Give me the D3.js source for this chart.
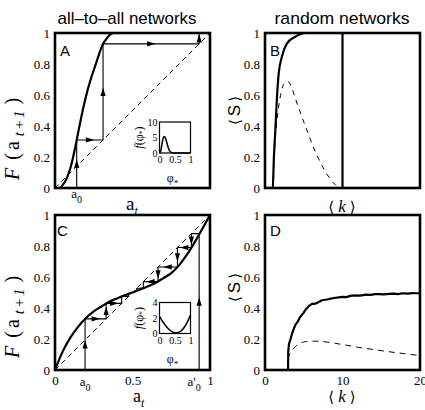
<!DOCTYPE html>
<html lang="en">

<head>
	<meta charset="utf-8">
	<title>all-to-all and random networks</title>
	<script type="text/javascript" src="https://cdn.jsdelivr.net/npm/d3@7/dist/d3.min.js"></script>
	<style>
		body { margin: 0; background: white; }
		svg { display: block; }
	</style>
</head>

<body>
	<script type="text/javascript">

		// ---- values ----
		const yTicks = [0, 0.2, 0.4, 0.6, 0.8, 1];
		const kTicks = [0, 10, 20];
		const insetXTicks = [0, 0.5, 1];
		const insetYTicksA = [0, 5, 10];
		const insetYTicksC = [0, 2, 4];

		// A: map F(a_t), all-to-all network
		const aA = [0, 0.03, 0.05, 0.07, 0.09, 0.11, 0.13, 0.15, 0.17, 0.19, 0.21, 0.23, 0.25, 0.27, 0.29, 0.31, 0.33, 0.35, 0.38, 0.42, 1];
		const FA = [0, 0, 0.02, 0.05, 0.10, 0.17, 0.26, 0.36, 0.46, 0.55, 0.63, 0.70, 0.76, 0.82, 0.88, 0.93, 0.96, 0.985, 1, 1, 1];
		const a0A = 0.14;
		const cobA_a = [0.14, 0.14, 0.31, 0.31, 0.93, 0.93];
		const cobA_F = [0, 0.31, 0.31, 0.93, 0.93, 1];
		// inset A
		const phiA = [0, 0.03, 0.06, 0.1, 0.13, 0.16, 0.2, 0.25, 0.3, 0.35, 0.4, 0.5, 1];
		const fA = [0, 0.3, 1.8, 4.0, 5.1, 5.3, 4.6, 2.8, 1.2, 0.4, 0.1, 0, 0];

		// B: random networks, <S> vs <k>
		const kB = [0, 1.0, 1.15, 1.33, 1.55, 1.77, 2.2, 2.8, 3.9, 5.2, 10];
		const SB = [0, 0, 0.2, 0.37, 0.59, 0.74, 0.85, 0.93, 0.976, 1, 1];
		const kBdrop = [10, 10, 20];
		const SBdrop = [1, 0, 0];
		const kBdash = [1.0, 1.3, 1.7, 2.1, 2.5, 3.0, 3.5, 3.9, 5.2, 6.5, 7.8, 9.07, 9.5];
		const SBdash = [0, 0.3, 0.5, 0.62, 0.675, 0.686, 0.64, 0.58, 0.40, 0.234, 0.105, 0.02, 0];

		// C: map F(a_t), all-to-all network, second threshold distribution
		const aC = [0, 0.05, 0.1, 0.15, 0.2, 0.25, 0.3, 0.35, 0.4, 0.45, 0.5, 0.55, 0.6, 0.65, 0.7, 0.75, 0.8, 0.85, 0.9, 0.95, 1];
		const FC = [0, 0.12, 0.21, 0.28, 0.335, 0.378, 0.41, 0.44, 0.462, 0.482, 0.5, 0.52, 0.54, 0.563, 0.593, 0.625, 0.675, 0.742, 0.822, 0.91, 1];
		const a0C = 0.194;
		const a0pC = 0.93;
		const cobC1_a = [0.194, 0.194, 0.33, 0.33, 0.43, 0.43, 0.475, 0.475];
		const cobC1_F = [0, 0.33, 0.33, 0.43, 0.43, 0.475, 0.475, 0.49];
		const cobC2_a = [0.93, 0.93, 0.88, 0.88, 0.79, 0.79, 0.665, 0.665, 0.57, 0.57, 0.527, 0.527];
		const cobC2_F = [0, 0.88, 0.88, 0.79, 0.79, 0.665, 0.665, 0.57, 0.57, 0.527, 0.527, 0.512];
		// inset C
		const phiC = [0, 0.1, 0.2, 0.3, 0.4, 0.5, 0.6, 0.7, 0.8, 0.9, 1];
		const fC = [2.2, 1.55, 1.0, 0.55, 0.25, 0.1, 0.12, 0.35, 0.8, 1.5, 2.4];

		// D: random networks, <S> vs <k>
		const kD = [0, 2.97, 3.0, 3.1, 3.3, 3.5, 3.9, 4.2, 4.55, 5.0, 5.2, 5.6, 6.06, 6.5, 7.0, 7.35, 8, 8.5, 9.07, 9.5, 10, 10.5, 11, 11.65, 12.3, 13, 13.6, 14.2, 14.7, 15.3, 16, 16.6, 17.2, 17.7, 18.4, 19, 19.5, 20];
		const SD = [0, 0, 0.12, 0.17, 0.2, 0.237, 0.29, 0.31, 0.344, 0.37, 0.387, 0.41, 0.426, 0.428, 0.44, 0.45, 0.455, 0.46, 0.466, 0.468, 0.472, 0.47, 0.478, 0.481, 0.48, 0.486, 0.485, 0.489, 0.49, 0.488, 0.491, 0.493, 0.49, 0.495, 0.493, 0.496, 0.495, 0.494];
		const kDdash = [2.9, 3.06, 3.5, 3.9, 4.5, 5.2, 6.5, 8, 9.07, 10.5, 12.1, 14, 16, 18, 19.4, 20];
		const SDdash = [0, 0.086, 0.125, 0.15, 0.17, 0.183, 0.186, 0.18, 0.172, 0.16, 0.146, 0.132, 0.118, 0.105, 0.097, 0.095];

		// ---- layout ----
		const w = 425;
		const h = 410;
		const size = 155;
		const colLeft = [55, 265];
		const rowTop = [33, 215];
		const serif = "'Liberation Serif', 'Times New Roman', serif";
		const sans = "'Liberation Sans', Arial, sans-serif";

		const svg = d3.select("body")
			.append("svg")
			.attr("width", w)
			.attr("height", h)
			.attr("font-family", serif);

		function scales(x0, y0, xDom, yDom, wd, ht) {
			return {
				x: d3.scaleLinear().domain(xDom).range([x0, x0 + wd]),
				y: d3.scaleLinear().domain(yDom).range([y0 + ht, y0])
			};
		}

		function drawLine(p, xs, ys, opts) {
			const line = d3.line()
				.x(d => p.x(d[0]))
				.y(d => p.y(d[1]))
				.curve(opts.curve || d3.curveLinear);
			return svg.append("path")
				.datum(d3.zip(xs, ys))
				.attr("d", line)
				.attr("fill", "none")
				.attr("stroke", opts.color || "black")
				.attr("stroke-width", opts.width || 1)
				.attr("stroke-dasharray", opts.dash || null)
				.attr("stroke-linejoin", "round");
		}

		function arrows(p, xs, ys) {
			for (let i = 0; i < xs.length - 1; i++) {
				const x1 = p.x(xs[i]), y1 = p.y(ys[i]);
				const x2 = p.x(xs[i + 1]), y2 = p.y(ys[i + 1]);
				const len = Math.hypot(x2 - x1, y2 - y1);
				if (len < 10) continue;
				const ang = Math.atan2(y2 - y1, x2 - x1) * 180 / Math.PI;
				svg.append("path")
					.attr("d", "M4.5,0L-4,-2.6L-4,2.6Z")
					.attr("fill", "black")
					.attr("transform", `translate(${(x1 + x2) / 2},${(y1 + y2) / 2}) rotate(${ang})`);
			}
		}

		function frame(p, sw) {
			const [x0, x1] = p.x.range();
			const [y0, y1] = p.y.range();
			svg.append("rect")
				.attr("x", x0)
				.attr("y", y1)
				.attr("width", x1 - x0)
				.attr("height", y0 - y1)
				.attr("fill", "none")
				.attr("stroke", "black")
				.attr("stroke-width", sw);
		}

		function yAxis(p, ticks, fs, pad) {
			svg.append("g")
				.attr("transform", `translate(${p.x.range()[0]},0)`)
				.call(d3.axisLeft(p.y).tickValues(ticks).tickSize(0).tickPadding(pad).tickFormat(d => d))
				.call(g => g.select(".domain").remove())
				.selectAll("text")
				.attr("font-family", serif)
				.attr("font-size", fs)
				.attr("fill", "black");
		}

		function xAxis(p, ticks, fs, pad) {
			return svg.append("g")
				.attr("transform", `translate(0,${p.y.range()[0]})`)
				.call(d3.axisBottom(p.x).tickValues(ticks).tickSize(0).tickPadding(pad).tickFormat(d => d))
				.call(g => g.select(".domain").remove())
				.call(g => g.selectAll("text")
					.attr("font-family", serif)
					.attr("font-size", fs)
					.attr("fill", "black"));
		}

		// text with a subscript
		function subText(x, y, main, sub, fs, subFs, anchor, italicSub) {
			const t = svg.append("text")
				.attr("x", x)
				.attr("y", y)
				.attr("font-size", fs)
				.attr("text-anchor", anchor || "start");
			t.append("tspan").text(main);
			t.append("tspan")
				.attr("font-size", subFs)
				.attr("dy", subFs * 0.45)
				.attr("font-style", italicSub ? "italic" : null)
				.text(sub);
			return t;
		}

		function yLabelF(x, y) {
			const t = svg.append("text")
				.attr("transform", `translate(${x},${y}) rotate(-90)`)
				.attr("font-size", 20);
			t.append("tspan").attr("font-style", "italic").text("F");
			t.append("tspan").attr("dx", 8).text("(");
			t.append("tspan").attr("dx", 3).text("a");
			t.append("tspan").attr("font-size", 15).attr("font-style", "italic").attr("dy", 5).attr("dx", 5)
				.attr("letter-spacing", 2).text("t+1");
			t.append("tspan").attr("dy", -5).attr("dx", 4).text(")");
		}

		function yLabelS(x, y) {
			const t = svg.append("text")
				.attr("transform", `translate(${x},${y}) rotate(-90)`)
				.attr("font-size", 17)
				.attr("text-anchor", "middle");
			t.append("tspan").attr("font-family", "'DejaVu Serif', serif").attr("font-size", 15).text("\u27E8");
			t.append("tspan").attr("font-family", sans).attr("dx", 3).text("S");
			t.append("tspan").attr("font-family", "'DejaVu Serif', serif").attr("font-size", 15).attr("dx", 3).text("\u27E9");
		}

		function xLabelK(x, y) {
			const t = svg.append("text")
				.attr("x", x)
				.attr("y", y)
				.attr("font-size", 17)
				.attr("text-anchor", "middle");
			t.append("tspan").attr("font-family", "'DejaVu Serif', serif").attr("font-size", 15).text("\u27E8");
			t.append("tspan").attr("font-style", "italic").attr("dx", 4).text("k");
			t.append("tspan").attr("font-family", "'DejaVu Serif', serif").attr("font-size", 15).attr("dx", 4).text("\u27E9");
		}

		function inset(x0, y0, phis, fs, yMax, yT) {
			const p = scales(x0, y0, [0, 1], [0, yMax], 31, 31);
			drawLine(p, phis, fs, { width: 1.5, curve: d3.curveMonotoneX });
			frame(p, 1.2);
			yAxis(p, yT, 10, 2);
			xAxis(p, insetXTicks, 10, 3);
			// f(phi*) label
			const t = svg.append("text")
				.attr("transform", `translate(${x0 - 17},${y0 + 15.5}) rotate(-90)`)
				.attr("font-size", 12)
				.attr("text-anchor", "middle");
			t.append("tspan").attr("font-style", "italic").text("f");
			t.append("tspan").text("(\u03C6");
			t.append("tspan").attr("font-size", 8).attr("dy", 2).text("*");
			t.append("tspan").attr("dy", -2).text(")");
			subText(x0 + 13, y0 + 60, "\u03C6", "*", 12, 9, "middle");
		}

		// ---- titles ----
		svg.append("text")
			.attr("x", 127)
			.attr("y", 24)
			.attr("text-anchor", "middle")
			.attr("font-family", sans)
			.attr("font-size", 17)
			.attr("textLength", 139)
			.attr("lengthAdjust", "spacingAndGlyphs")
			.text("all\u2013to\u2013all networks");

		svg.append("text")
			.attr("x", 342)
			.attr("y", 24)
			.attr("text-anchor", "middle")
			.attr("font-family", sans)
			.attr("font-size", 17)
			.attr("textLength", 135)
			.attr("lengthAdjust", "spacingAndGlyphs")
			.text("random networks");

		// ---- panel A ----
		const pA = scales(colLeft[0], rowTop[0], [0, 1], [0, 1], size, size);
		drawLine(pA, [0, 1], [0, 1], { dash: "5,4" });
		drawLine(pA, cobA_a, cobA_F, { width: 1.1 });
		arrows(pA, cobA_a, cobA_F);
		drawLine(pA, aA, FA, { width: 2.2, curve: d3.curveMonotoneX });
		frame(pA, 2.6);
		yAxis(pA, yTicks, 13, 5);
		subText(pA.x(a0A), 198, "a", "0", 13, 10, "middle");
		subText(126, 210, "a", "t", 19, 12, "start", true);
		yLabelF(19, 180);
		inset(159.5, 122, phiA, fA, 10, insetYTicksA);
		svg.append("text").attr("x", 60).attr("y", 56).attr("font-family", sans).attr("font-size", 15).text("A");

		// ---- panel B ----
		const pB = scales(colLeft[1], rowTop[0], [0, 20], [0, 1], size, size);
		drawLine(pB, kBdash, SBdash, { dash: "5,5", curve: d3.curveMonotoneX });
		drawLine(pB, kB, SB, { width: 2.2, curve: d3.curveMonotoneX });
		drawLine(pB, kBdrop, SBdrop, { width: 2.2 });
		frame(pB, 2.6);
		yAxis(pB, yTicks, 13, 5);
		yLabelS(240, rowTop[0] + size / 2);
		xLabelK(342, 212);
		svg.append("text").attr("x", 270).attr("y", 56).attr("font-family", sans).attr("font-size", 15).text("B");

		// ---- panel C ----
		const pC = scales(colLeft[0], rowTop[1], [0, 1], [0, 1], size, size);
		drawLine(pC, [0, 1], [0, 1], { dash: "5,4" });
		drawLine(pC, cobC1_a, cobC1_F, { width: 1.1 });
		drawLine(pC, cobC2_a, cobC2_F, { width: 1.1 });
		arrows(pC, cobC1_a, cobC1_F);
		arrows(pC, cobC2_a, cobC2_F);
		drawLine(pC, aC, FC, { width: 2.2, curve: d3.curveMonotoneX });
		frame(pC, 2.6);
		yAxis(pC, yTicks, 13, 5);
		xAxis(pC, [0, 0.5, 1], 13, 6);
		subText(pC.x(a0C), 386, "a", "0", 13, 10, "middle");
		subText(pC.x(a0pC) - 5, 386, "a'", "0", 13, 10, "middle");
		subText(133, 402, "a", "t", 18, 12, "start", true);
		yLabelF(19, 358);
		inset(159.5, 302.5, phiC, fC, 4, insetYTicksC);
		svg.append("text").attr("x", 57).attr("y", 236).attr("font-family", sans).attr("font-size", 15).text("C");

		// ---- panel D ----
		const pD = scales(colLeft[1], rowTop[1], [0, 20], [0, 1], size, size);
		drawLine(pD, kDdash, SDdash, { dash: "6,5", curve: d3.curveMonotoneX });
		drawLine(pD, kD, SD, { width: 2.2 });
		frame(pD, 2.6);
		yAxis(pD, yTicks, 13, 5);
		xAxis(pD, kTicks, 13, 6);
		yLabelS(240, rowTop[1] + size / 2 - 5);
		xLabelK(342, 402);
		svg.append("text").attr("x", 270).attr("y", 236).attr("font-family", sans).attr("font-size", 15).text("D");

	</script>
</body>

</html>
